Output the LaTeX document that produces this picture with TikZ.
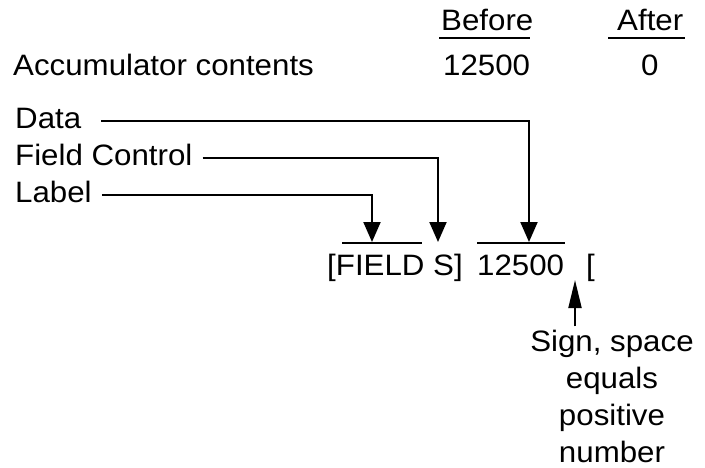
\documentclass[tikz,border=0pt]{standalone}
\usepackage{fontspec}
\setmainfont[FakeStretch=1.06]{Liberation Sans}
\usetikzlibrary{arrows.meta}
\begin{document}
\begin{tikzpicture}[x=1pt,y=-1pt,
  txt/.style={inner sep=0pt,anchor=base west,font=\fontsize{29.5}{36}\selectfont},
  rule/.style={line width=2pt},
  conn/.style={line width=2pt,-{Triangle[length=20pt,width=17pt]}},
  upconn/.style={line width=2pt,-{Triangle[length=28pt,width=13pt]}}]
\useasboundingbox (0,0) rectangle (705,467);
% header
\node[txt] (before) at (441,30) {Before};
\node[txt] (after) at (617,30) {After};
\draw[rule] (439,38) -- (530,38);
\draw[rule] (608,38) -- (685,38);
\node[txt] (acc) at (13,75) {Accumulator contents};
\node[txt] (vb) at (443,75) {12500};
\node[txt] (va) at (641,75) {0};
% labels
\node[txt] (data) at (15,128) {Data};
\node[txt] (fc) at (15,165) {Field Control};
\node[txt] (lab) at (15,202) {Label};
% record
\node[txt] (field) at (327,275) {[FIELD S]};
\node[txt] (num) at (477,275) {12500};
\node[txt] (sgn) at (586,275) {[};
\coordinate (t1) at (372,242);
\coordinate (t2) at (438,242);
\coordinate (t3) at (529,242);
\draw[rule] (342,243) -- (422,243);
\draw[rule] (477,243) -- (565,243);
\draw[conn] ([xshift=20pt]data.east |- 0,121) -| (t3);
\draw[conn] ([xshift=10pt]fc.east |- 0,158) -| (t2);
\draw[conn] ([xshift=10pt]lab.east |- 0,195) -| (t1);
% sign note
\node[txt,anchor=base] (n1) at (612,351) {Sign, space};
\node[txt,anchor=base] (n2) at (612,388) {equals};
\node[txt,anchor=base] (n3) at (612,425) {positive};
\node[txt,anchor=base] (n4) at (612,462) {number};
\coordinate (s1) at (575,280);
\draw[upconn] (n1.north -| s1) ++(0,-3) -- (s1);
\end{tikzpicture}
\end{document}
